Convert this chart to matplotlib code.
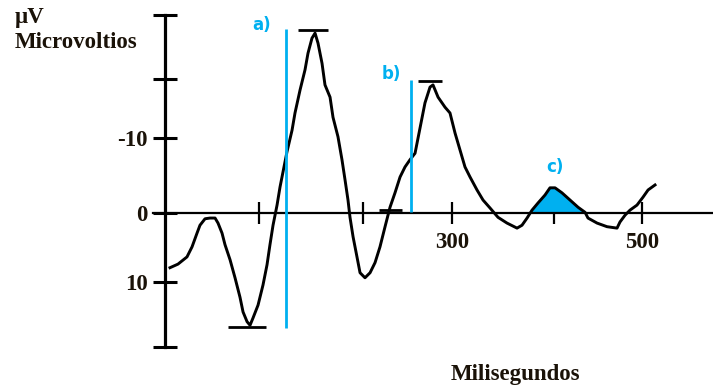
import matplotlib
matplotlib.use("Agg")
import matplotlib.pyplot as plt
import numpy as np

# Waveform (time in ms, amplitude in microvolts; negative drawn upward)
time_ms = [5.2, 13.6, 23.0, 28.3, 33.5, 36.6, 41.9, 47.1, 52.4, 55.5, 59.7, 62.8, 68.1,
           73.3, 78.5, 81.7, 85.9, 89.0, 92.1, 97.4, 102.6, 106.8, 109.9, 113.1, 117.3,
           120.4, 127.7, 133.0, 136.1, 141.4, 146.6, 149.7, 153.9, 157.1, 160.2, 164.4,
           167.5, 172.8, 175.9, 181.1, 185.3, 188.5, 191.6, 193.7, 196.9, 201.0, 204.2,
           209.4, 214.7, 219.9, 225.1, 230.4, 235.6, 240.8, 246.1, 251.3, 256.5, 261.8,
           267.0, 272.2, 277.5, 280.6, 285.9, 293.2, 298.4, 303.7, 308.9, 314.1, 319.4,
           326.7, 333.0, 340.3, 348.7, 358.1, 368.6, 373.8, 379.1, 384.3, 390.6, 397.9,
           403.1, 408.4, 415.7, 424.1, 432.5, 439.8, 442.9, 452.4, 462.8, 473.3, 476.4,
           481.7, 486.9, 494.2, 500.5, 505.8, 513.1]
amp_uv = [7.6, 7.1, 6.1, 4.7, 2.8, 1.7, 0.8, 0.7, 0.7, 1.4, 2.8, 4.4, 6.5,
          9.0, 11.7, 13.75, 15.1, 15.6, 14.6, 12.8, 10.0, 7.2, 4.4, 1.7, -1.1,
          -3.6, -8.5, -11.5, -13.9, -17.1, -19.9, -22.2, -24.3, -25.0, -23.6, -20.8,
          -17.8, -16.1, -13.3, -10.6, -7.4, -4.6, -1.8, 0.6, 3.3, 6.1, 8.3,
          9.0, 8.3, 6.9, 4.7, 1.9, -0.8, -2.8, -5.0, -6.4, -7.4, -8.3,
          -11.8, -15.3, -17.5, -17.8, -16.1, -14.7, -13.9, -11.1, -8.75, -6.4, -5.0,
          -3.2, -1.8, -0.7, 0.6, 1.4, 2.1, 1.7, 0.7, -0.4, -1.4, -2.5,
          -3.5, -3.5, -2.8, -1.8, -0.8, -0.1, 0.7, 1.4, 1.9, 2.1, 1.25,
          0.3, -0.4, -1.1, -2.2, -3.2, -3.9]

# Peak markers: (t_start, t_end, level)
peak_bars_t0 = [66.0, 139.3, 264.9, 224.1]
peak_bars_t1 = [105.8, 170.7, 290.1, 248.2]
peak_bars_v = [15.8, -25.4, -18.3, -0.4]

# Blue latency lines
marker_t = [126.7, 257.6]
marker_top = [-25.6, -18.5]
marker_bottom = [16.0, -0.1]
marker_labels = ["a)", "b)", "c)"]
marker_label_t = [101.6, 236.6, 408.4]
marker_label_v = [-26.1, -19.3, -6.4]

# Shaded component c)
shade_t0, shade_t1 = 378.0, 446.0

# Axis ticks
x_ticks = [98.4, 207.3, 300.5, 407.3, 499.5]
x_tick_labels = ["", "", "300", "", "500"]
y_ticks = [-27.5, -18.6, -10.4, 0.0, 9.6, 18.6]
y_tick_labels = ["", "", "-10", "0", "10", ""]

BLUE = "#00B0F0"
TXT = "#1a1208"
serif = "Liberation Serif"
FS = 16.5

fig = plt.figure(figsize=(7.13, 3.85), dpi=100)
ax = fig.add_axes([0, 0, 1, 1])
ax.set_facecolor("white")
ax.set_xlim(-172.8, 573.8)
ax.set_ylim(23.9, -29.6)

for s in ["top", "right"]:
    ax.spines[s].set_visible(False)
ax.spines["left"].set_position(("data", 0))
ax.spines["bottom"].set_position(("data", 0))
ax.spines["left"].set_bounds(-27.5, 18.6)
ax.spines["bottom"].set_bounds(-12.6, 573.8)
ax.spines["left"].set_linewidth(2.3)
ax.spines["bottom"].set_linewidth(1.6)
ax.spines["left"].set_color("black")
ax.spines["bottom"].set_color("black")

ax.set_xticks(x_ticks)
ax.set_xticklabels(x_tick_labels)
ax.set_yticks(y_ticks)
ax.set_yticklabels(y_tick_labels)
ax.tick_params(axis="y", direction="inout", length=17, width=2.2, pad=4,
               labelsize=FS, labelcolor=TXT)
ax.tick_params(axis="x", direction="inout", length=16, width=1.6, pad=6,
               labelsize=FS, labelcolor=TXT)
for lab in ax.get_xticklabels() + ax.get_yticklabels():
    lab.set_fontfamily(serif)
    lab.set_fontweight("bold")

t = np.array(time_ms)
v = np.array(amp_uv)
ax.fill_between(t, v, 0, where=(t >= shade_t0) & (t <= shade_t1) & (v <= 0),
                interpolate=True, color=BLUE, lw=0, zorder=2)
ax.plot(t, v, color="black", lw=2.1, solid_joinstyle="round", zorder=3)

ax.hlines(peak_bars_v, peak_bars_t0, peak_bars_t1, color="black", lw=2.0, zorder=3)
ax.vlines(marker_t, marker_top, marker_bottom, color=BLUE, lw=2.0, zorder=4)
for lab, lt, lv in zip(marker_labels, marker_label_t, marker_label_v):
    ax.text(lt, lv, lab, color=BLUE, fontsize=12, fontweight="bold",
            family="DejaVu Sans", ha="center", va="center")

ax.text(-157.1, -26.4, "µV", fontsize=FS, fontweight="bold", family=serif,
        color=TXT, ha="left", va="baseline")
ax.text(-157.1, -22.9, "Microvoltios", fontsize=FS, fontweight="bold", family=serif,
        color=TXT, ha="left", va="baseline")
ax.text(366.5, 22.4, "Milisegundos", fontsize=FS, fontweight="bold", family=serif,
        color=TXT, ha="center", va="center")

fig.savefig("out.png", dpi=100, facecolor="white")
